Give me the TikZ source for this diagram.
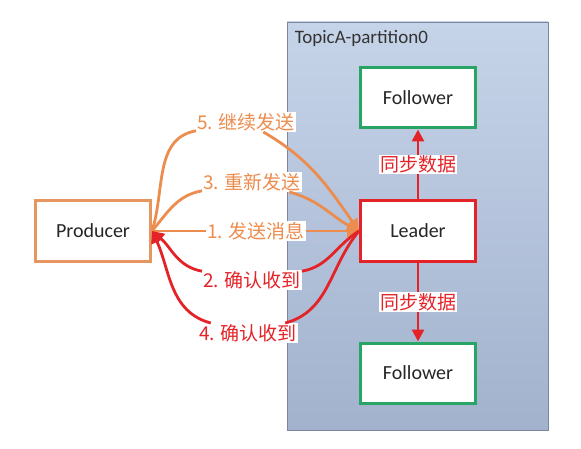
\documentclass[tikz,border=0pt]{standalone}
\usepackage{fontspec}
\setmainfont{Carlito}
\newfontfamily\cjk{Noto Sans CJK SC}
\usepackage{xcolor}
\usetikzlibrary{arrows.meta, positioning}
\definecolor{prodorange}{RGB}{232,150,95}
\definecolor{msgorange}{RGB}{236,140,78}
\definecolor{ackred}{RGB}{228,35,40}
\definecolor{boxgreen}{RGB}{40,165,100}
\definecolor{parttop}{RGB}{198,212,233}
\definecolor{partbot}{RGB}{162,178,205}
\definecolor{partline}{RGB}{125,135,155}
\tikzset{
  box/.style={rectangle, draw, fill=white, line width=3pt,
              minimum width=115pt, minimum height=60pt,
              text=black!85, font=\fontsize{20}{24}\selectfont},
  producerbox/.style={box, draw=prodorange},
  leaderbox/.style={box, draw=ackred},
  followerbox/.style={box, draw=boxgreen},
  partbox/.style={rectangle, draw=partline, line width=0.8pt,
                  top color=parttop, bottom color=partbot,
                  minimum width=261pt, minimum height=408pt},
  msg/.style={fill=white, inner sep=1pt, text=msgorange,
              font=\cjk\fontsize{19}{22}\selectfont},
  ack/.style={msg, text=ackred},
  sendarrow/.style={-{Triangle[length=12pt, width=12pt]}, draw=msgorange,
                    line width=2.8pt},
  ackarrow/.style={sendarrow, draw=ackred},
}

\begin{document}
\begin{tikzpicture}[x=1pt, y=-1pt]
  \useasboundingbox (0,0) rectangle (581,449);
  \node[partbox] (part) at (417.5,226) {};
  \node[anchor=north west, inner sep=2pt, text=black!80,
        font=\fontsize{19}{22}\selectfont]
    (ptitle) at ([xshift=6pt, yshift=-7pt]part.north west) {TopicA-partition0};

  \node[producerbox] (prod) at (93,231) {Producer};
  \node[leaderbox]   (lead) at (418,231) {Leader};
  \node[followerbox, above=70pt of lead] (ftop) {Follower};
  \node[followerbox, below=79pt of lead] (fbot) {Follower};

  \node[msg] (l5) at (246,122) {5. 继续发送};
  \node[msg] (l3) at (252,182) {3. 重新发送};
  \node[msg] (l1) at (256,231) {1. 发送消息};
  \node[ack] (l2) at (252,280) {2. 确认收到};
  \node[ack] (l4) at (248,333) {4. 确认收到};

  \draw[sendarrow] (prod.east) to[out=72, in=190] (l5)
                   to[out=-30, in=125] (lead.west);
  \draw[sendarrow] (prod.east) to[out=50, in=190] (l3)
                   to[out=-15, in=152] (lead.west);
  \draw[sendarrow] (prod.east) -- (l1) -- (lead.west);
  \draw[ackarrow] (lead.west) to[out=212, in=10] (l2)
                  to[out=170, in=-40] (prod.east);
  \draw[ackarrow] (lead.west) to[out=230, in=15] (l4)
                  to[out=165, in=-65] (prod.east);

  \draw[ackarrow] (lead) -- node[ack] {同步数据} (ftop);
  \draw[ackarrow] (lead) -- node[ack] {同步数据} (fbot);
\end{tikzpicture}
\end{document}
